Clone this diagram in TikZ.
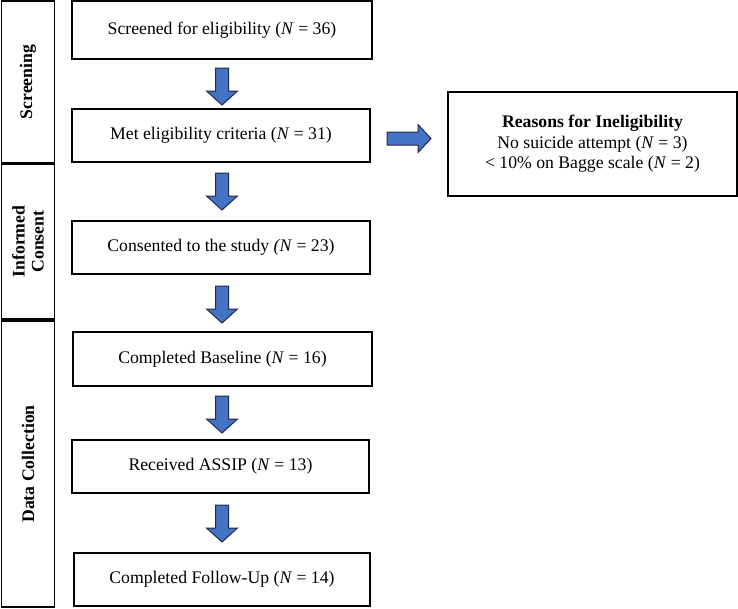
\documentclass[tikz,border=0pt]{standalone}
\usepackage{fontspec}
\setmainfont{Liberation Serif}
\definecolor{arrblue}{HTML}{4472C4}
\definecolor{arredge}{HTML}{1F2A44}
\begin{document}
\begin{tikzpicture}[x=1pt,y=-1pt,
  every node/.style={font=\fontsize{17.7}{20.5}\selectfont},
  flowbox/.style={draw=black,line width=1.3pt,rectangle,inner sep=0pt,align=center},
  sidebox/.style={draw=black,line width=1.5pt,rectangle,inner sep=0pt},
  sidelabel/.style={rotate=90,font=\fontsize{17.7}{19}\selectfont\bfseries,align=center},
  arrowst/.style={fill=arrblue,draw=arredge,line width=1pt,line join=miter},
  darr/.pic={\draw[arrowst] (-6.5,0) -- (6.5,0) -- (6.5,23) -- (15.5,23) -- (0,37) -- (-15.5,23) -- (-6.5,23) -- cycle;},
  rarr/.pic={\draw[arrowst] (0,-6.5) -- (31,-6.5) -- (31,-14) -- (44,0) -- (31,14) -- (31,6.5) -- (0,6.5) -- cycle;}
]
\useasboundingbox (0,0) rectangle (738,608);

% side phase boxes
\node[sidebox,minimum width=53pt,minimum height=162pt] (sA) at (28,82) {};
\node[sidelabel] (sAl) at (sA.center) {Screening};
\node[sidebox,minimum width=53pt,minimum height=155pt] (sB) at (28,241.5) {};
\node[sidelabel] (sBl) at (sB.center) {Informed\\Consent};
\node[sidebox,minimum width=53pt,minimum height=286pt] (sC) at (28,464) {};
\node[sidelabel] (sCl) at (sC.center) {Data Collection};

% flow boxes
\node[flowbox,minimum width=300pt,minimum height=58pt] (b1) at (222,30) {Screened for eligibility (\textit{N} = 36)};
\node[flowbox,minimum width=298pt,minimum height=53pt] (b2) at (221,135.5) {Met eligibility criteria (\textit{N} = 31)};
\node[flowbox,minimum width=298pt,minimum height=53pt] (b3) at (221,247.5) {Consented to the study \textit{(N} = 23)};
\node[flowbox,minimum width=299pt,minimum height=54pt] (b4) at (222.5,359) {Completed Baseline (\textit{N} = 16)};
\node[flowbox,minimum width=297pt,minimum height=53pt] (b5) at (220.5,466.5) {Received ASSIP (\textit{N} = 13)};
\node[flowbox,minimum width=296pt,minimum height=53pt] (b6) at (222,579.5) {Completed Follow-Up (\textit{N} = 14)};

\node[flowbox,minimum width=289pt,minimum height=104pt] (r) at (592.5,144) {\textbf{Reasons for Ineligibility}\\No suicide attempt (\textit{N} = 3)\\< 10\% on Bagge scale (\textit{N} = 2)};

% block arrows
\pic at (222,68) {darr};
\pic at (222,173) {darr};
\pic at (222,286) {darr};
\pic at (222,396) {darr};
\pic at (222,505) {darr};
\pic at (387,138.5) {rarr};
\end{tikzpicture}
\end{document}
